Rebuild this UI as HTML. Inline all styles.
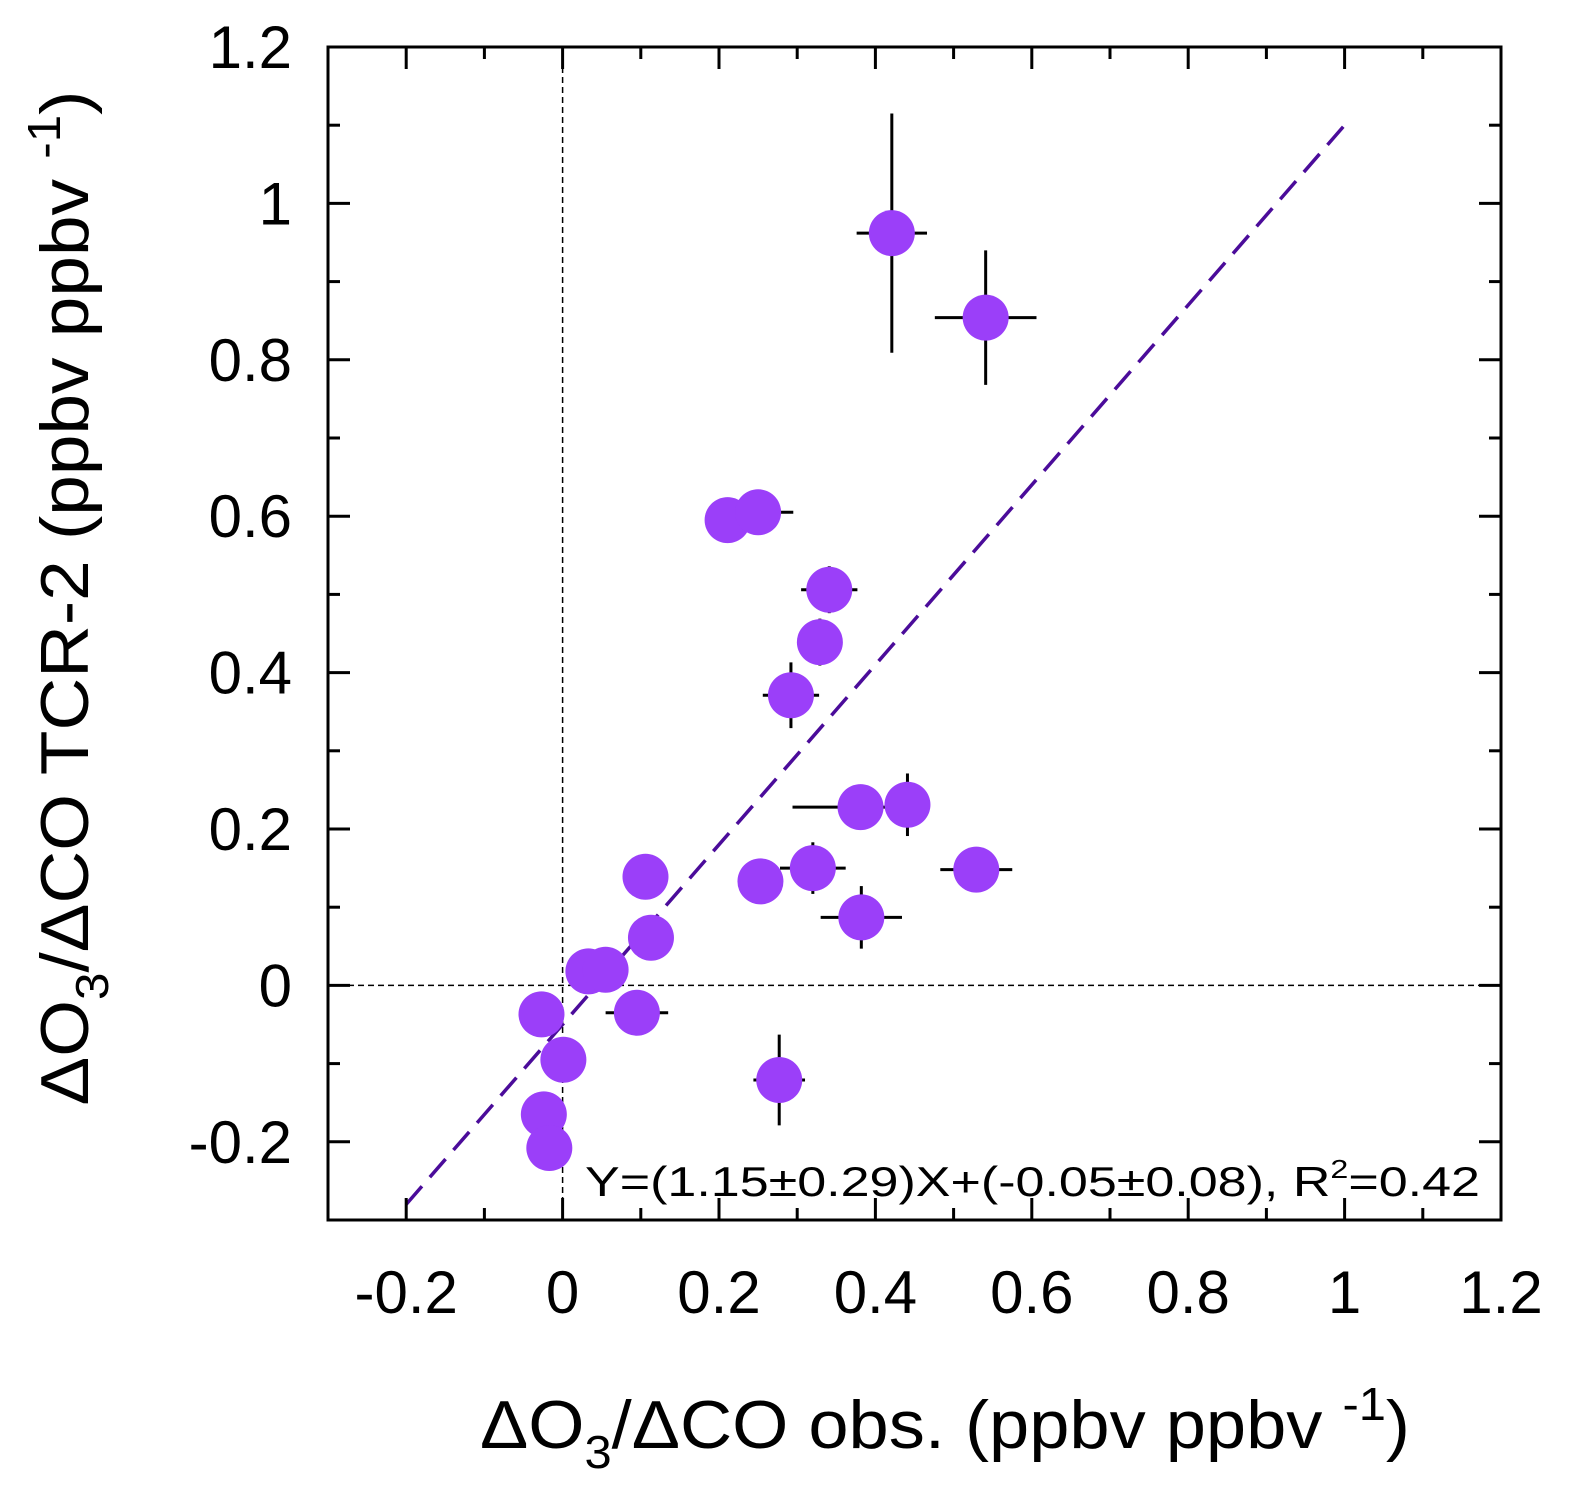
<!DOCTYPE html>
<html><head><meta charset="utf-8"><style>
html,body{margin:0;padding:0;background:#fff;}
svg{display:block;font-family:"Liberation Sans",sans-serif;}
</style></head><body>
<svg id="chart" width="1579" height="1507" viewBox="0 0 1579 1507" xmlns="http://www.w3.org/2000/svg">
<g id="marks"></g>
<g id="axes"></g>
<text x="1480" y="1196" font-size="42" text-anchor="end" textLength="895" lengthAdjust="spacingAndGlyphs">Y=(1.15±0.29)X+(-0.05±0.08), R<tspan font-size="26" dy="-18">2</tspan><tspan dy="18">=0.42</tspan></text>
<text x="945" y="1448" font-size="68" text-anchor="middle" textLength="930" lengthAdjust="spacingAndGlyphs">ΔO<tspan font-size="46" dy="20">3</tspan><tspan dy="-20">/ΔCO obs. (ppbv ppbv </tspan><tspan font-size="46" dy="-28">-1</tspan><tspan dy="28">)</tspan></text>
<text transform="translate(88,598) rotate(-90)" font-size="68" text-anchor="middle" textLength="1015" lengthAdjust="spacingAndGlyphs">ΔO<tspan font-size="46" dy="20">3</tspan><tspan dy="-20">/ΔCO TCR-2 (ppbv ppbv </tspan><tspan font-size="46" dy="-28">-1</tspan><tspan dy="28">)</tspan></text>
</svg>
<script>
const xs=[0.421,0.541,0.211,0.250,0.341,0.329,0.292,0.381,0.441,0.106,0.320,0.253,0.529,0.382,0.113,0.033,0.055,0.095,-0.027,0.001,0.277,-0.024,-0.017];
const ys=[0.962,0.854,0.595,0.605,0.506,0.439,0.371,0.228,0.231,0.139,0.150,0.133,0.148,0.087,0.061,0.018,0.020,-0.035,-0.037,-0.095,-0.121,-0.165,-0.208];
const xerr=[0.045,0.065,0,0.045,0.036,0,0.036,0.087,0,0,0.042,0,0.046,0.052,0,0,0,0.04,0,0,0.033,0,0];
const yerr=[0.153,0.086,0.02,0,0.03,0.03,0.042,0,0.04,0,0.033,0,0,0.04,0,0,0,0,0,0,0.058,0,0];
const xTicks=[-0.2,0,0.2,0.4,0.6,0.8,1,1.2];
const xTickLabels=["-0.2","0","0.2","0.4","0.6","0.8","1","1.2"];
const yTicks=[-0.2,0,0.2,0.4,0.6,0.8,1,1.2];
const yTickLabels=["-0.2","0","0.2","0.4","0.6","0.8","1","1.2"];
const fitSlope=1.15, fitIntercept=-0.05, fitRange=[-0.2,1.0];

const L=328,R=1501,T=47,B=1220,xmin=-0.3,xmax=1.2,ymin=-0.3,ymax=1.2;
const sx=v=>L+(v-xmin)/(xmax-xmin)*(R-L);
const sy=v=>B-(v-ymin)/(ymax-ymin)*(B-T);
const NS="http://www.w3.org/2000/svg";
function mk(tag,attrs,parent){const e=document.createElementNS(NS,tag);for(const k in attrs)e.setAttribute(k,attrs[k]);parent.appendChild(e);return e;}
const marks=document.getElementById('marks'), axes=document.getElementById('axes');

let e=mk('line',{x1:sx(0),y1:T,x2:sx(0),y2:B,stroke:'#000','stroke-width':1.5,'stroke-dasharray':'6,4'},marks);


e=mk('line',{x1:L,y1:sy(0),x2:R,y2:sy(0),stroke:'#000','stroke-width':1.5,'stroke-dasharray':'6,4'},marks);



for(let i=0;i<xs.length;i++){
  if(xerr[i]>0){e=mk('line',{x1:sx(xs[i]-xerr[i]),y1:sy(ys[i]),x2:sx(xs[i]+xerr[i]),y2:sy(ys[i]),stroke:'#000','stroke-width':3},marks);
  
  }
  if(yerr[i]>0){e=mk('line',{x1:sx(xs[i]),y1:sy(ys[i]-yerr[i]),x2:sx(xs[i]),y2:sy(ys[i]+yerr[i]),stroke:'#000','stroke-width':3},marks);
  
  }
}
e=mk('line',{x1:sx(fitRange[0]),y1:sy(fitSlope*fitRange[0]+fitIntercept),x2:sx(fitRange[1]),y2:sy(fitSlope*fitRange[1]+fitIntercept),stroke:'#4b0c9a','stroke-width':3.5,'stroke-dasharray':'24,12'},marks);


for(let i=0;i<xs.length;i++){
  e=mk('circle',{cx:sx(xs[i]),cy:sy(ys[i]),r:23,fill:'#9b3ff9'},marks);
  
  
}

e=mk('rect',{x:L,y:T,width:R-L,height:B-T,fill:'none',stroke:'#000','stroke-width':3},axes);


for(let v=-3;v<=12;v++){
  const val=v/10, major=(v%2===0), len=major?22:12;
  const px=sx(val), py=sy(val);
  [[px,B,px,B-len],[px,T,px,T+len],[L,py,L+len,py],[R,py,R-len,py]].forEach(c=>{
    const t=mk('line',{x1:c[0],y1:c[1],x2:c[2],y2:c[3],stroke:'#000','stroke-width':3},axes);
    
    
  });
}
for(let i=0;i<xTicks.length;i++){
  e=mk('text',{x:sx(xTicks[i]),y:1313,'font-size':60,'text-anchor':'middle'},axes);
  e.textContent=xTickLabels[i];
  
  
}
for(let i=0;i<yTicks.length;i++){
  e=mk('text',{x:292,y:sy(yTicks[i])+21,'font-size':60,'text-anchor':'end'},axes);
  e.textContent=yTickLabels[i];
  
  
}
</script>
</body></html>
